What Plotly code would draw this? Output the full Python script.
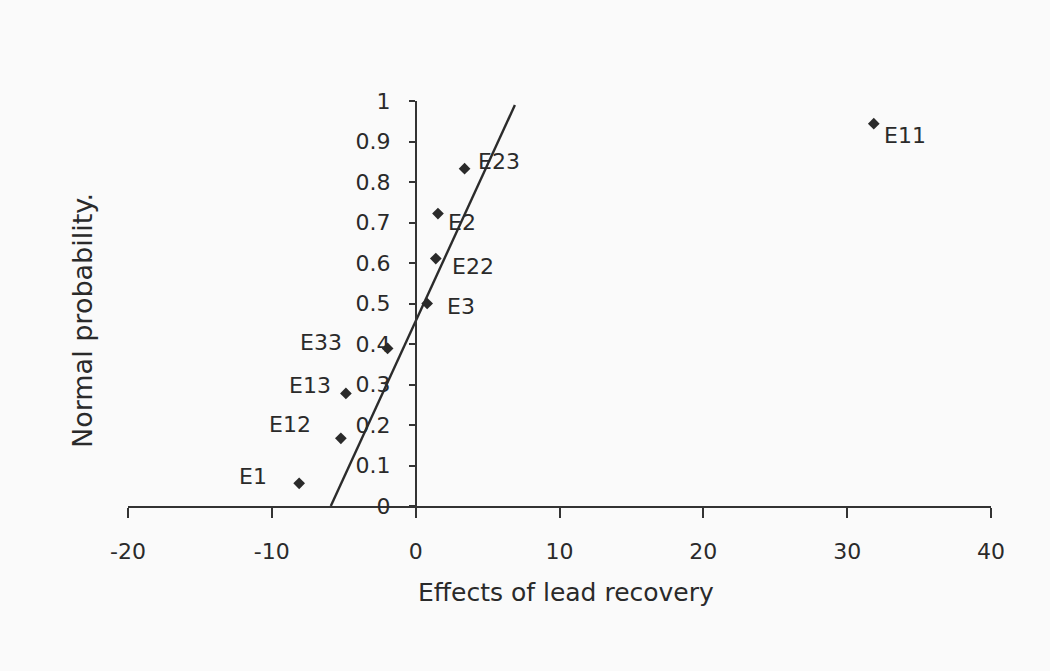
import plotly.graph_objects as go

# Data
labels = ["E1", "E12", "E13", "E33", "E3", "E22", "E2", "E23", "E11"]
effects = [-8.1, -5.2, -4.85, -1.95, 0.8, 1.4, 1.55, 3.4, 31.85]
probs = [0.056, 0.167, 0.278, 0.389, 0.5, 0.611, 0.722, 0.833, 0.944]

line_x = [-5.9, 6.9]
line_y = [0.0, 0.99]

x_ticks = [-20, -10, 0, 10, 20, 30, 40]
y_ticks = [0, 0.1, 0.2, 0.3, 0.4, 0.5, 0.6, 0.7, 0.8, 0.9, 1]
y_ticktext = ["0", "0.1", "0.2", "0.3", "0.4", "0.5", "0.6", "0.7", "0.8", "0.9", "1"]

# label placement (style only): anchor, xshift, yshift in px
label_style = {
    "E1": ("right", -30, 7),
    "E12": ("right", -28, 14),
    "E13": ("right", -13, 8),
    "E33": ("right", -44, 6),
    "E3": ("left", 18, -3),
    "E22": ("left", 14, -8),
    "E2": ("left", 8, -9),
    "E23": ("left", 11, 7),
    "E11": ("left", 8, -12),
}

INK = "#2a2a2a"
FONT = "DejaVu Sans"

fig = go.Figure()
fig.add_trace(go.Scatter(
    x=line_x, y=line_y, mode="lines",
    line=dict(color="#2b2b2b", width=2.4),
    cliponaxis=False, showlegend=False, hoverinfo="skip"))
fig.add_trace(go.Scatter(
    x=effects, y=probs, mode="markers",
    marker=dict(symbol="diamond", size=9, color=INK),
    cliponaxis=False, showlegend=False))

annotations = []
for lab, xv, yv in zip(labels, effects, probs):
    anc, xs, ys = label_style[lab]
    annotations.append(dict(
        x=xv, y=yv, xref="x", yref="y", text=lab, showarrow=False,
        xanchor=anc, yanchor="middle", xshift=xs, yshift=ys,
        font=dict(family=FONT, size=22, color=INK)))

annotations.append(dict(
    x=0.5075, y=-0.213, xref="paper", yref="paper",
    text="Effects of lead recovery", showarrow=False,
    xanchor="center", yanchor="middle",
    font=dict(family=FONT, size=25, color=INK)))
annotations.append(dict(
    x=-0.052, y=0.457, xref="paper", yref="paper",
    text="Normal probability.", showarrow=False, textangle=-90,
    xanchor="center", yanchor="middle",
    font=dict(family=FONT, size=27, color=INK)))

fig.update_layout(
    width=1050, height=671,
    margin=dict(l=128, r=59, t=101, b=165),
    paper_bgcolor="#fafafa", plot_bgcolor="#fafafa",
    showlegend=False,
    annotations=annotations,
    xaxis=dict(
        range=[-20, 40], domain=[0, 1],
        tickvals=x_ticks, ticktext=[str(v) for v in x_ticks],
        showgrid=False, zeroline=False,
        showline=True, linecolor="#333333", linewidth=1.6,
        ticks="outside", ticklen=10, tickwidth=1.5, tickcolor="#333333",
        ticklabelstandoff=15,
        tickfont=dict(family=FONT, size=22, color=INK),
    ),
    yaxis=dict(
        range=[0, 1], anchor="free", position=1/3,
        tickvals=y_ticks, ticktext=y_ticktext,
        showgrid=False, zeroline=False,
        showline=True, linecolor="#333333", linewidth=1.6,
        ticks="outside", ticklen=6, tickwidth=1.5, tickcolor="#333333",
        ticklabelstandoff=14,
        tickfont=dict(family=FONT, size=22, color=INK),
    ),
)

fig.write_html("out.html")
